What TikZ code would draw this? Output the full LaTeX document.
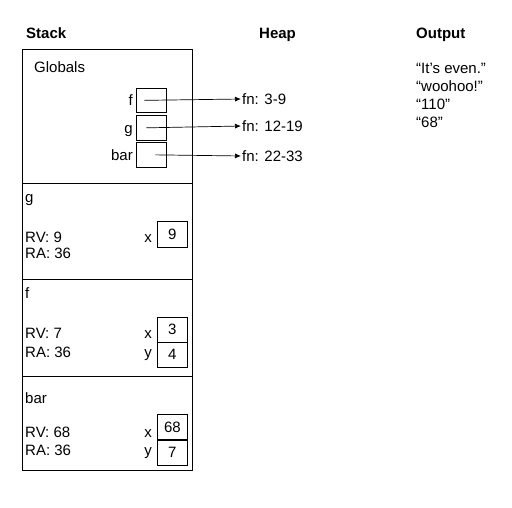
\documentclass[tikz,border=0pt]{standalone}
\usepackage{fontspec}
\setmainfont{Liberation Sans}
\usepackage{tikz}
\usetikzlibrary{arrows.meta, positioning, calc}
\newcommand{\diagfont}{\fontsize{15}{18}\selectfont}
\tikzset{
    txt/.style={inner sep=0pt, text height=10.7pt, text depth=0pt, font=\diagfont},
    head/.style={txt, font=\diagfont\bfseries},
    frame/.style={draw, line width=0.7pt, minimum width=170pt, inner sep=0pt, anchor=north west},
    cell/.style={draw, line width=0.7pt, minimum width=30pt, inner sep=0pt, font=\diagfont},
    ptr/.style={-{Latex[length=6pt, width=5pt]}, line width=0.7pt, shorten >=1pt}
}

\begin{document}
\begin{tikzpicture}[x=1pt, y=-1pt]
    \useasboundingbox (0,0) rectangle (512,508);

    % Headers
    \node[head, anchor=west] (stackhd) at (26,33) {Stack};
    \node[head, anchor=west] (heaphd) at (259,33) {Heap};
    \node[head, anchor=west] (outhd) at (416,33) {Output};

    % Frames
    \node[frame, minimum height=134pt] (globals) at (22,49) {};
    \node[frame, minimum height=96pt] (gframe) at (22,183) {};
    \node[frame, minimum height=97pt] (fframe) at (22,279) {};
    \node[frame, minimum height=94pt] (barframe) at (22,376) {};

    % Globals
    \node[txt, anchor=west] (globlbl) at (34,67) {Globals};
    \node[cell, minimum height=24pt, anchor=north west] (fcell) at (136,88) {};
    \node[cell, minimum height=25pt, anchor=north west] (gcell) at (136,115) {};
    \node[cell, minimum height=25pt, anchor=north west] (barcell) at (136,142) {};
    \node[txt, left=3pt of fcell] (fname) {f};
    \node[txt, left=3pt of gcell] (gname) {g};
    \node[txt, left=3pt of barcell] (barname) {bar};

    % Heap
    \node[txt, anchor=west] (heapf) at (242,99) {fn: 3-9};
    \node[txt, anchor=west] (heapg) at (242,126) {fn: 12-19};
    \node[txt, anchor=west] (heapbar) at (242,156) {fn: 22-33};

    % g frame
    \node[txt, anchor=west] (glbl) at (25,197) {g};
    \node[txt, anchor=west] (grv) at (25,237) {RV: 9};
    \node[txt, anchor=west] (gra) at (25,253) {RA: 36};
    \node[cell, minimum height=26pt, anchor=north west] (gx) at (157,221) {9};
    \node[txt, anchor=east] (gxlbl) at (152,237) {x};

    % f frame
    \node[txt, anchor=west] (flbl) at (25,293) {f};
    \node[txt, anchor=west] (frv) at (25,333) {RV: 7};
    \node[txt, anchor=west] (fra) at (25,352) {RA: 36};
    \node[cell, minimum height=24.5pt, anchor=north west] (fx) at (157,317) {3};
    \node[cell, minimum height=24.5pt, below=0pt of fx] (fy) {4};
    \node[txt, anchor=east] (fxlbl) at (152,333) {x};
    \node[txt, anchor=east] (fylbl) at (152,352) {y};

    % bar frame
    \node[txt, anchor=west] (barlbl) at (25,398) {bar};
    \node[txt, anchor=west] (barrv) at (25,432) {RV: 68};
    \node[txt, anchor=west] (barra) at (25,450) {RA: 36};
    \node[cell, minimum height=25pt, anchor=north west] (barx) at (157,414) {68};
    \node[cell, minimum height=25pt, below=0pt of barx] (bary) {7};
    \node[txt, anchor=east] (barxlbl) at (152,432) {x};
    \node[txt, anchor=east] (barylbl) at (152,450) {y};

    % Output
    \node[txt, anchor=west] (out1) at (416,68) {“It’s even.”};
    \node[txt, below=6.8pt of out1.south west, anchor=north west] (out2) {“woohoo!”};
    \node[txt, below=6.8pt of out2.south west, anchor=north west] (out3) {“110”};
    \node[txt, below=6.8pt of out3.south west, anchor=north west] (out4) {“68”};

    % Edges
    \draw[ptr] ([xshift=-7pt]fcell.center) -- (heapf.west);
    \draw[ptr] ([xshift=-5pt]gcell.center) -- (heapg.west);
    \draw[ptr] ([xshift=4pt]barcell.center) -- (heapbar.west);
\end{tikzpicture}
\end{document}
